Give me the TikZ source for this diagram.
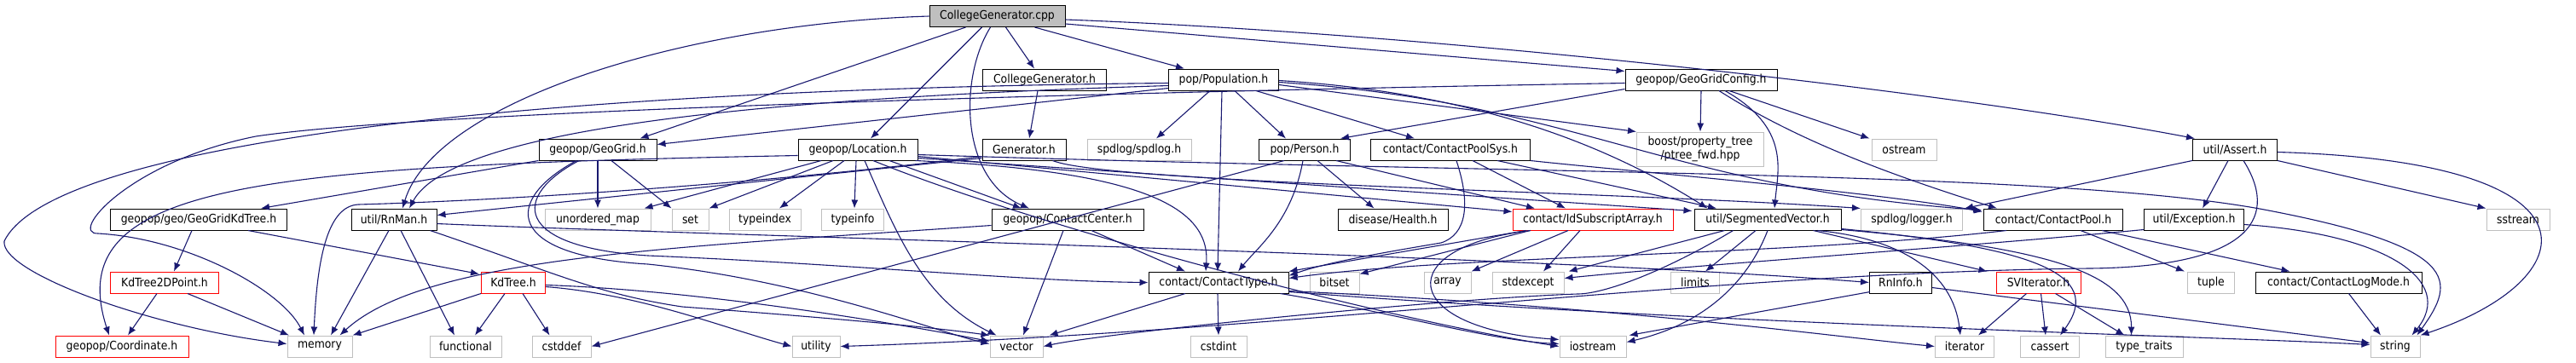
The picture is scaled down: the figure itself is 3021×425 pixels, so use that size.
\documentclass[tikz,border=0pt]{standalone}
\usepackage{fontspec}
\newfontfamily\dvc{DejaVu Sans Condensed}
\usetikzlibrary{arrows.meta,calc}
\definecolor{edgeblue}{HTML}{191970}
\definecolor{sysgray}{HTML}{BFBFBF}
\definecolor{rootgray}{HTML}{BFBFBF}
\tikzset{
  box/.style={rectangle, inner sep=0pt, minimum height=12.5pt, line width=0.5pt,
    font=\dvc\fontsize{6.9pt}{8pt}\selectfont, align=center, text=black},
  blk/.style={box, draw=black},
  sys/.style={box, draw=sysgray},
  redbox/.style={box, draw=red},
  rootbox/.style={box, draw=black, fill=rootgray},
  dep/.style={draw=edgeblue, line width=0.55pt, -{Latex[length=5pt,width=4pt]}}
}
\begin{document}
\begin{tikzpicture}[x=0.5pt,y=-0.5pt]
\path[use as bounding box, fill=white] (0,0) rectangle (3021,425);
% row 0
\node[rootbox, minimum width=79.5pt] (root) at (1169.5,19) {CollegeGenerator.cpp};
% row 1
\node[blk, minimum width=72.5pt] (cgh) at (1225,93.5) {CollegeGenerator.h};
\node[blk, minimum width=64.5pt] (pop) at (1435,93.5) {pop/Population.h};
\node[blk, minimum width=89pt] (ggc) at (1995,93.5) {geopop/GeoGridConfig.h};
% row 2
\node[blk, minimum width=69pt] (gg) at (701,175.5) {geopop/GeoGrid.h};
\node[blk, minimum width=70pt] (loc) at (1006,175.5) {geopop/Location.h};
\node[blk, minimum width=49pt] (gen) at (1201,175.5) {Generator.h};
\node[sys, minimum width=61pt] (spd) at (1336,175.5) {spdlog/spdlog.h};
\node[blk, minimum width=53.5pt] (per) at (1530,175.5) {pop/Person.h};
\node[blk, minimum width=93.5pt] (cps) at (1701,175.5) {contact/ContactPoolSys.h};
\node[sys, minimum width=74.5pt, minimum height=20pt] (bpt) at (1994,175) {boost/property\_tree\\/ptree\_fwd.hpp};
\node[sys, minimum width=38pt] (ost) at (2233,175.5) {ostream};
\node[blk, minimum width=49.5pt] (ass) at (2621,175.5) {util/Assert.h};
% row 3
\node[blk, minimum width=103.5pt] (kdt) at (233,257.5) {geopop/geo/GeoGridKdTree.h};
\node[blk, minimum width=50pt] (rnm) at (462,257.5) {util/RnMan.h};
\node[sys, minimum width=62pt] (umap) at (701,257.5) {unordered\_map};
\node[sys, minimum width=21.5pt] (set) at (809.5,257.5) {set};
\node[sys, minimum width=42pt] (tidx) at (897,257.5) {typeindex};
\node[sys, minimum width=36.5pt] (tinf) at (1000,257.5) {typeinfo};
\node[blk, minimum width=89pt] (cc) at (1252,257.5) {geopop/ContactCenter.h};
\node[blk, minimum width=64.5pt] (hea) at (1633.5,257.5) {disease/Health.h};
\node[redbox, minimum width=94pt] (ida) at (1868,257.5) {contact/IdSubscriptArray.h};
\node[blk, minimum width=86pt] (sv) at (2073,257.5) {util/SegmentedVector.h};
\node[sys, minimum width=59.5pt] (log) at (2242,257.5) {spdlog/logger.h};
\node[blk, minimum width=81.5pt] (cp) at (2408,257.5) {contact/ContactPool.h};
\node[blk, minimum width=58.5pt] (exc) at (2573,257.5) {util/Exception.h};
\node[sys, minimum width=37pt] (sst) at (2953,257.5) {sstream};
% row 4
\node[redbox, minimum width=63.5pt] (k2d) at (193,331.5) {KdTree2DPoint.h};
\node[redbox, minimum width=37.5pt] (kd) at (602,331.5) {KdTree.h};
\node[blk, minimum width=82pt] (ct) at (1429,331.5) {contact/ContactType.h};
\node[sys, minimum width=29pt] (bit) at (1565,331.5) {bitset};
\node[sys, minimum width=27.5pt] (arr) at (1697.5,331.5) {array};
\node[sys, minimum width=42pt] (sexc) at (1792,331.5) {stdexcept};
\node[sys, minimum width=28.5pt] (lim) at (1988,331.5) {limits};
\node[blk, minimum width=36.5pt] (rni) at (2229,331.5) {RnInfo.h};
\node[redbox, minimum width=49.5pt] (svi) at (2390.5,331.5) {SVIterator.h};
\node[sys, minimum width=27.5pt] (tup) at (2593,331.5) {tuple};
\node[blk, minimum width=97.5pt] (clm) at (2742.5,331.5) {contact/ContactLogMode.h};
% row 5
\node[redbox, minimum width=78pt] (coo) at (143,406.5) {geopop/Coordinate.h};
\node[sys, minimum width=38pt] (mem) at (375,406.5) {memory};
\node[sys, minimum width=42pt] (fun) at (546,406.5) {functional};
\node[sys, minimum width=34.5pt] (csd) at (658.5,406.5) {cstddef};
\node[sys, minimum width=28pt] (uti) at (957,406.5) {utility};
\node[sys, minimum width=31pt] (vec) at (1192,406.5) {vector};
\node[sys, minimum width=33pt] (cst) at (1429,406.5) {cstdint};
\node[sys, minimum width=39pt] (ios) at (1868,406.5) {iostream};
\node[sys, minimum width=34.5pt] (itr) at (2304,406.5) {iterator};
\node[sys, minimum width=34.5pt] (cas) at (2404,406.5) {cassert};
\node[sys, minimum width=45.5pt] (tt) at (2514.5,406.5) {type\_traits};
\node[sys, minimum width=29pt] (str) at (2809,406.5) {string};

% ---- edges ----
% root
\draw[dep] (root.west) .. controls (800,28) and (510,120) .. ($(rnm.north)+(10,0)$);
\draw[dep] ($(root.south)+(-37,0)$) -- ($(gg.north east)+(-20,0)$);
\draw[dep] ($(root.south)+(-18,0)$) -- ($(loc.north)+(15,0)$);
\draw[dep] ($(root.south)+(-8,0)$) .. controls (1125,90) and (1125,210) .. ($(cc.north)+(-45,0)$);
\draw[dep] ($(root.south)+(10,0)$) -- ($(cgh.north)+(-12,0)$);
\draw[dep] ($(root.south)+(44,0)$) -- ($(pop.north)+(-46,0)$);
\draw[dep] ($(root.east)+(0,9)$) -- ($(ggc.west)+(0,-10)$);
\draw[dep] ($(root.east)+(0,4)$) .. controls (1700,40) and (2300,110) .. ($(ass.north west)+(3,0)$);
% CollegeGenerator.h
\draw[dep] ($(cgh.south)+(-8,0)$) -- ($(gen.north)+(6,0)$);
% Population.h
\draw[dep] ($(pop.west)+(0,10)$) -- ($(gg.east)+(0,-6)$);
\draw[dep] ($(pop.west)+(0,7)$) .. controls (900,115) and (530,150) .. ($(rnm.north)+(18,0)$);
\draw[dep] ($(pop.west)+(0,4)$) .. controls (600,105) and (60,170) .. (5,283) .. controls (0,320) and (180,385) .. ($(mem.west)+(0,-3)$);
\draw[dep] ($(pop.south)+(-16,0)$) -- ($(spd.north)+(20,0)$);
\draw[dep] ($(pop.south)+(13,0)$) -- ($(per.north west)+(32,0)$);
\draw[dep] ($(pop.south east)+(-27,0)$) -- ($(cps.north)+(-42,0)$);
\draw[dep] ($(pop.south)+(-2,0)$) -- ($(ct.north)+(-1,0)$);
\draw[dep] ($(pop.east)+(0,6)$) -- (bpt.north west);
\draw[dep] ($(pop.east)+(0,1)$) .. controls (1750,110) and (1900,180) .. ($(sv.north west)+(16,0)$);
\draw[dep] ($(pop.east)+(0,3)$) .. controls (1850,120) and (1950,220) .. ($(cp.north west)+(-2,2)$);
% GeoGridConfig.h
\draw[dep] ($(ggc.west)+(0,4)$) .. controls (1300,108) and (500,130) .. (300,160) .. controls (150,190) and (80,275) .. (115,274) .. controls (220,280) and (330,340) .. ($(mem.north)+(-18,0)$);
\draw[dep] ($(ggc.south west)+(0,-2)$) -- ($(per.north east)+(-12,0)$);
\draw[dep] (ggc.south) -- (bpt.north);
\draw[dep] ($(ggc.south)+(33,0)$) -- ($(ost.north west)+(-2,0)$);
\draw[dep] ($(ggc.south)+(28,0)$) .. controls (2100,150) and (2085,200) .. ($(sv.north)+(8,0)$);
\draw[dep] ($(ggc.south)+(21,0)$) .. controls (2100,160) and (2200,200) .. ($(cp.north)+(-66,0)$);
% Generator.h
\draw[dep] ($(gen.west)+(0,8)$) .. controls (900,215) and (600,235) .. (420,240) .. controls (385,242) and (372,300) .. ($(mem.north)+(-7,0)$);
\draw[dep] ($(gen.west)+(0,10)$) -- ($(rnm.east)+(0,-5)$);
\draw[dep] ($(gen.south east)+(-16,0)$) .. controls (1300,215) and (1900,225) .. (log.north west);
% Location.h
\draw[dep] ($(loc.west)+(0,7)$) .. controls (300,195) and (70,215) .. ($(coo.north)+(-15,0)$);
\draw[dep] ($(loc.south)+(-43,0)$) -- ($(umap.north east)+(-8,0)$);
\draw[dep] ($(loc.south)+(-29,0)$) -- (set.north east);
\draw[dep] ($(loc.south)+(-16,0)$) -- ($(tidx.north)+(17,0)$);
\draw[dep] ($(loc.south)+(-2,0)$) -- ($(tinf.north)+(2,0)$);
\draw[dep] ($(loc.south)+(8,0)$) .. controls (1050,270) and (1080,350) .. ($(vec.north west)+(8,0)$);
\draw[dep] ($(loc.south)+(18,0)$) .. controls (1200,260) and (1600,370) .. (ios.west);
\draw[dep] ($(loc.south)+(37,0)$) -- ($(cc.north)+(-54,0)$);
\draw[dep] ($(loc.south east)+(-3,0)$) .. controls (1330,200) and (1420,240) .. ($(ct.north)+(-15,0)$);
\draw[dep] ($(loc.east)+(0,8)$) -- ($(ida.west)+(0,-9)$);
\draw[dep] ($(loc.east)+(0,10)$) -- ($(sv.north west)+(-2,3)$);
\draw[dep] ($(loc.east)+(0,6)$) .. controls (1800,205) and (2400,200) .. (2650,245) .. controls (2890,290) and (2880,330) .. ($(str.north east)+(-4,0)$);
% GeoGrid.h
\draw[dep] (gg.south west) -- ($(kdt.north east)+(-31,0)$);
\draw[dep] (gg.south) -- (umap.north);
\draw[dep] ($(gg.south)+(16,0)$) -- (set.north west);
\draw[dep] ($(gg.south)+(-22,0)$) .. controls (600,230) and (600,290) .. (760,300) .. controls (1000,310) and (1200,330) .. (ct.west);
\draw[dep] ($(gg.south)+(-25,0)$) .. controls (590,235) and (590,300) .. (760,310) .. controls (950,330) and (1100,390) .. ($(vec.west)+(0,-3)$);
% GeoGridKdTree.h
\draw[dep] ($(kdt.south)+(-8,0)$) -- ($(k2d.north)+(11,0)$);
\draw[dep] ($(kdt.south)+(58,0)$) -- ($(kd.north west)+(-2,3)$);
% KdTree2DPoint.h, KdTree.h
\draw[dep] ($(k2d.south)+(-9,0)$) -- ($(coo.north)+(7,0)$);
\draw[dep] ($(k2d.south)+(27,0)$) -- ($(mem.north)+(-36,0)$);
\draw[dep] (kd.south west) -- (mem.north east);
\draw[dep] ($(kd.south)+(-10,0)$) -- ($(fun.north)+(11,0)$);
\draw[dep] ($(kd.south)+(11,0)$) -- ($(csd.north)+(-14,0)$);
\draw[dep] ($(kd.east)+(0,5)$) .. controls (750,345) and (850,385) .. (uti.west);
\draw[dep] ($(kd.east)+(0,3)$) .. controls (800,340) and (1000,370) .. ($(vec.west)+(0,-6)$);
% RnMan.h
\draw[dep] ($(rnm.south)+(-6,0)$) -- ($(mem.north)+(13,0)$);
\draw[dep] ($(rnm.south)+(8,0)$) -- ($(fun.north)+(-13,0)$);
\draw[dep] ($(rnm.south east)+(-8,0)$) .. controls (650,320) and (700,345) .. (800,360) .. controls (1000,375) and (1100,385) .. (vec.north west);
\draw[dep] ($(rnm.east)+(0,5)$) .. controls (800,275) and (1800,300) .. (rni.west);
% ContactCenter.h
\draw[dep] ($(cc.south)+(28,0)$) -- ($(ct.north)+(-39,0)$);
\draw[dep] ($(cc.south)+(-5,0)$) -- ($(vec.north)+(8,0)$);
\draw[dep] ($(cc.west)+(0,7)$) .. controls (800,290) and (500,300) .. ($(mem.north east)+(-15,0)$);
% ContactType.h
\draw[dep] ($(ct.south)+(-1,0)$) -- (cst.north);
\draw[dep] ($(ct.south)+(-39,0)$) -- ($(vec.north east)+(7,0)$);
\draw[dep] ($(ct.south east)+(-10,0)$) .. controls (1600,360) and (1750,400) .. ($(ios.west)+(0,-3)$);
\draw[dep] ($(ct.east)+(0,10)$) .. controls (1900,360) and (2150,395) .. (itr.west);
\draw[dep] ($(ct.east)+(0,11)$) .. controls (2000,380) and (2600,395) .. ($(str.west)+(0,-2)$);
% Person.h
\draw[dep] ($(per.south)+(15,0)$) -- ($(hea.north)+(-22,0)$);
\draw[dep] ($(per.south east)+(-17,0)$) -- ($(ida.north)+(-68,0)$);
\draw[dep] ($(per.south)+(-2,0)$) .. controls (1515,260) and (1475,290) .. ($(ct.north)+(23,0)$);
\draw[dep] ($(per.south west)+(30,0)$) -- (csd.east);
% ContactPoolSys.h
\draw[dep] ($(cps.south)+(26,0)$) -- ($(ida.north)+(-32,0)$);
\draw[dep] ($(cps.south)+(55,0)$) -- ($(sv.north)+(-60,0)$);
\draw[dep] ($(cps.south)+(7,0)$) .. controls (1725,240) and (1720,275) .. (1690,285) .. controls (1600,300) and (1550,310) .. ($(ct.east)+(0,-8)$);
\draw[dep] (cps.south east) .. controls (1900,200) and (2200,225) .. ($(cp.north west)+(-1,4)$);
% IdSubscriptArray.h
\draw[dep] ($(ida.south west)+(16,0)$) -- (ct.north east);
\draw[dep] ($(ida.south west)+(21,0)$) -- ($(bit.north east)+(0,3)$);
\draw[dep] ($(ida.south)+(-29,0)$) -- (arr.north east);
\draw[dep] ($(ida.south)+(-15,0)$) -- ($(sexc.north)+(18,0)$);
\draw[dep] ($(ida.south)+(-73,0)$) .. controls (1630,290) and (1640,385) .. ($(ios.west)+(0,-8)$);
% SegmentedVector.h
\draw[dep] ($(sv.south west)+(36,0)$) -- ($(sexc.north east)+(5,0)$);
\draw[dep] ($(sv.south)+(-14,0)$) -- ($(lim.north)+(12,0)$);
\draw[dep] (sv.south) .. controls (2050,330) and (2000,380) .. ($(ios.east)+(0,-5)$);
\draw[dep] ($(sv.south west)+(46,0)$) .. controls (1950,320) and (1880,345) .. (1850,345) .. controls (1700,350) and (1300,390) .. (vec.east);
\draw[dep] ($(sv.south east)+(-33,0)$) -- ($(svi.north west)+(-10,0)$);
\draw[dep] ($(sv.south east)+(-28,0)$) .. controls (2230,280) and (2290,320) .. ($(itr.north)+(-5,0)$);
\draw[dep] ($(sv.south east)+(0,-2)$) .. controls (2380,290) and (2470,320) .. ($(cas.north)+(12,0)$);
\draw[dep] ($(sv.south east)+(0,-1)$) .. controls (2400,290) and (2500,320) .. ($(tt.north)+(-15,0)$);
% ContactPool.h
\draw[dep] ($(cp.south)+(32,0)$) -- ($(tup.north west)+(-3,0)$);
\draw[dep] ($(cp.south)+(57,0)$) -- ($(clm.north)+(-57,0)$);
\draw[dep] ($(cp.south west)+(27,0)$) .. controls (2100,300) and (1700,300) .. ($(ct.east)+(0,-5)$);
% Exception.h
\draw[dep] ($(exc.south west)+(0,-1)$) .. controls (2300,290) and (2000,310) .. ($(sexc.east)+(0,-5)$);
\draw[dep] ($(exc.east)+(0,6)$) .. controls (2800,275) and (2880,330) .. ($(str.north east)+(-10,0)$);
% Assert.h
\draw[dep] (ass.south west) -- ($(log.north east)+(2,0)$);
\draw[dep] ($(ass.south)+(-8,0)$) -- ($(exc.north)+(10,0)$);
\draw[dep] ($(ass.south)+(10,0)$) .. controls (2670,250) and (2650,313) .. (2450,315) .. controls (2000,320) and (1500,390) .. (uti.east);
\draw[dep] (ass.south east) -- (sst.north west);
\draw[dep] ($(ass.east)+(0,3)$) .. controls (3070,190) and (3030,330) .. (str.north east);
% RnInfo.h, SVIterator.h, ContactLogMode.h
\draw[dep] ($(rni.south west)+(1,-2)$) -- ($(ios.north east)+(3,0)$);
\draw[dep] ($(rni.east)+(0,6)$) -- ($(str.west)+(0,-4)$);
\draw[dep] ($(svi.south)+(-14,0)$) -- ($(itr.north)+(16,0)$);
\draw[dep] ($(svi.south)+(3,0)$) -- ($(cas.north)+(-5,0)$);
\draw[dep] ($(svi.south)+(20,0)$) -- ($(tt.north)+(-23,0)$);
\draw[dep] ($(clm.south)+(12,0)$) -- ($(str.north)+(-17,0)$);
\end{tikzpicture}
\end{document}
